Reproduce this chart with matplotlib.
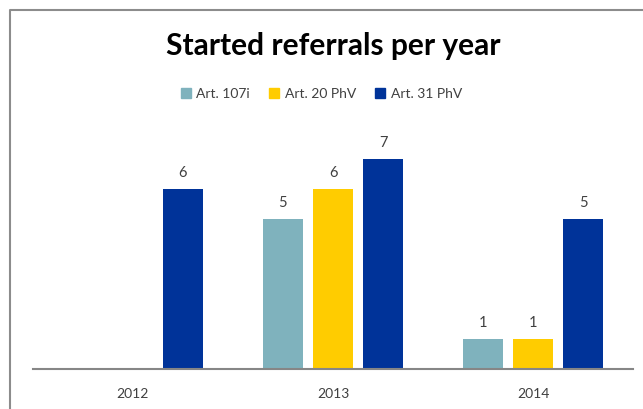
import numpy as np
import matplotlib.pyplot as plt
from matplotlib.lines import Line2D

plt.rcParams['font.family'] = ['Lato', 'DejaVu Sans']

years = ['2012', '2013', '2014']
series = ['Art. 107i', 'Art. 20 PhV', 'Art. 31 PhV']
art107i = [np.nan, 5, 1]
art20 = [np.nan, 6, 1]
art31 = [6, 7, 5]
colors = ['#7FB2BD', '#FFCC00', '#003399']

fig = plt.figure(figsize=(6.43, 4.09), dpi=100)
ax = fig.add_axes([32.5 / 643, 40 / 409, 601 / 643, 240 / 409])

x = np.arange(len(years))
offsets = [-0.25, 0, 0.25]
for vals, off, col, name in zip([art107i, art20, art31], offsets, colors, series):
    bars = ax.bar(x + off, vals, width=0.2, color=col, label=name)
    for xi, v in zip(x, vals):
        if not np.isnan(v):
            ax.text(xi + off, v + 0.3, f'{v:g}', ha='center', va='bottom',
                    fontsize=10.5, color='#404040')

ax.set_xlim(-0.5, 2.5)
ax.set_ylim(0, 8)
ax.set_xticks(x)
ax.set_xticklabels(years, fontsize=10, color='#404040')
ax.tick_params(axis='x', length=0, pad=14)
ax.set_yticks([])
for side in ['left', 'right', 'top']:
    ax.spines[side].set_visible(False)
ax.spines['bottom'].set_color('#868686')
ax.spines['bottom'].set_linewidth(1.5)

fig.text(0.518, 1 - 46 / 409, 'Started referrals per year', ha='center', va='center',
         fontsize=21.5, fontweight='bold', color='black')

handles = [plt.Rectangle((0, 0), 1, 1, color=c) for c in colors]
fig.legend(handles, series, loc='center', bbox_to_anchor=(0.5, 1 - 94 / 409), ncol=3,
           frameon=False, fontsize=10, handlelength=0.7, handleheight=0.7,
           handletextpad=0.4, columnspacing=1.4, labelcolor='#404040')

# chart frame (left and top edges)
fig.add_artist(Line2D([10 / 643, 10 / 643, 1], [0, 1 - 10 / 409, 1 - 10 / 409],
                      transform=fig.transFigure, color='#8C8C8C', linewidth=1.5))

fig.savefig('out.png', dpi=100)
